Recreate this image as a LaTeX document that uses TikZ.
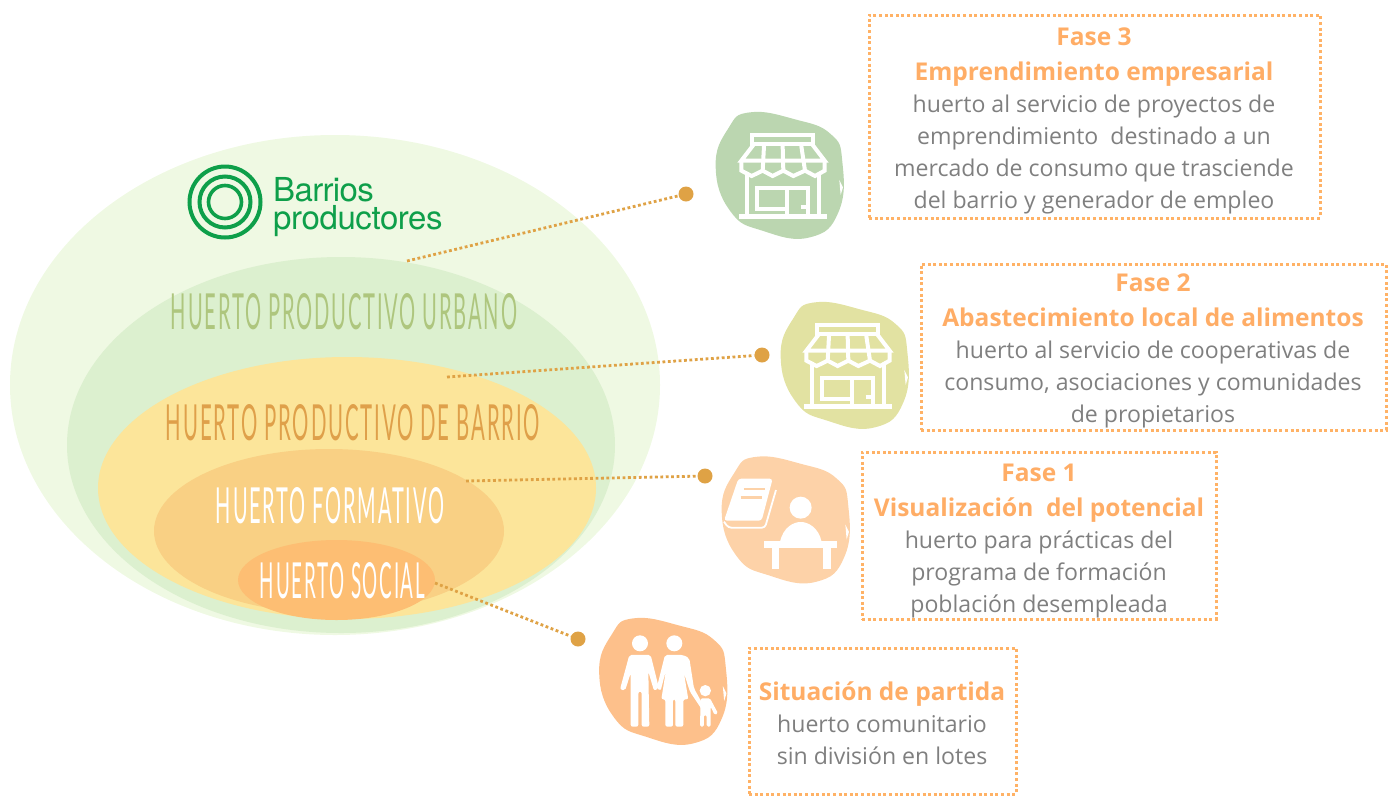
\documentclass[tikz,border=0pt]{standalone}
\usepackage{fontspec}
\setmainfont{Open Sans}
\newfontfamily\hand[LetterSpace=9]{Lato}
\newfontfamily\logofont{TeX Gyre Heros}
\definecolor{ell1}{HTML}{EFF9E3}
\definecolor{ell2}{HTML}{DCF0CF}
\definecolor{ell3}{HTML}{FCE59A}
\definecolor{ell4}{HTML}{F9D084}
\definecolor{ell5}{HTML}{FDBE73}
\definecolor{blobA}{HTML}{BBD6B0}
\definecolor{blobB}{HTML}{E2E2A2}
\definecolor{blobC}{HTML}{FDD2A8}
\definecolor{blobD}{HTML}{FDC08B}
\definecolor{dotc}{HTML}{DFA245}
\definecolor{boxc}{HTML}{FFB266}
\definecolor{titlec}{HTML}{FFAD66}
\definecolor{bodyc}{HTML}{7F7F7F}
\definecolor{logoc}{HTML}{0E9F4A}
\definecolor{hueA}{HTML}{AEC67E}
\definecolor{hueB}{HTML}{DFA04A}
\newcommand{\ttl}[1]{{\fontsize{24.5}{35}\selectfont\bfseries\color{titlec}#1}}
\newcommand{\huerto}[4]{\node[text=#4,inner sep=0pt] (#1) at (#2) {\resizebox{#3}{36pt}{\hand HUERTO #1}};}
\newcommand{\blobshape}[3]{%
  \begin{scope}[shift={(#1,#2)},x=0.3333pt,y=-0.3333pt]
    \fill[#3] plot[smooth cycle,tension=0.8] coordinates {(150,37)(285,58)(392,102)(427,185)(416,335)(330,412)(190,393)(92,335)(47,200)(85,85)};
    \fill[white] (418,240) -- (429,262) -- (422,285) -- cycle;
  \end{scope}}
\newcommand{\storeicon}[2]{%
  \begin{scope}[shift={(#1,#2)},x=0.3333pt,y=-0.3333pt,draw=white,line width=4pt,line join=miter]
    \draw (156,104) rectangle (340,133);
    \draw (160,135) -- (124,182) -- (374,182) -- (338,135);
    \draw (124,182) -- (124,212) -- (155,228) -- (188,212) -- (218,228) -- (250,212) -- (280,228) -- (315,212) -- (345,228) -- (374,212) -- (374,182);
    \draw (192,138) -- (188,212) (248,138) -- (250,212) (304,138) -- (315,212);
    \draw (140,222) -- (140,350) (358,222) -- (358,350);
    \draw[line width=5pt] (118,350) -- (380,350);
    \draw (172,264) rectangle (262,328);
    \draw (262,350) -- (262,264) -- (324,264) -- (324,350);
    \draw (302,322) -- (324,322);
  \end{scope}}
\begin{document}
\begin{tikzpicture}[x=1pt,y=-1pt,
  boxstyle/.style={draw=boxc,line width=3pt,dash pattern=on 3pt off 2.6pt},
  linkstyle/.style={draw=dotc,line width=2.8pt,dash pattern=on 2.8pt off 2.6pt},
  dotstyle/.style={circle,fill=dotc,inner sep=0pt,minimum size=15pt},
  txt/.style={align=center,text=bodyc,inner sep=0pt,anchor=north,font=\fontsize{23.1}{32}\selectfont}]
\path[use as bounding box] (0,0) rectangle (1392,796);
% ellipses
\fill[ell1] (335,385) ellipse [x radius=325,y radius=250];
\fill[ell2] (341,445) ellipse [x radius=274,y radius=188];
\fill[ell3] (347,488) ellipse [x radius=249,y radius=131];
\fill[ell4] (329,531) ellipse [x radius=175,y radius=82];
\fill[ell5] (336.5,580) ellipse [x radius=98.5,y radius=40];
% logo
\draw[logoc,line width=4pt] (225,202) circle (35.5) (225,202) circle (25.5);
\draw[logoc,line width=3.6pt] (225,202) circle (16.5);
\node[inner sep=0pt,anchor=base west,text=logoc] (logoA) at (273,201.7) {\logofont\addfontfeature{LetterSpace=-2}\fontsize{33}{33}\selectfont Barrios};
\node[inner sep=0pt,anchor=base west,text=logoc] (logoB) at (273,229) {\logofont\addfontfeature{LetterSpace=-1.2}\fontsize{33}{33}\selectfont productores};
% titles
\huerto{PRODUCTIVO URBANO}{344,311.5}{346pt}{hueA}
\huerto{PRODUCTIVO DE BARRIO}{353,423}{374pt}{hueB}
\huerto{FORMATIVO}{330,506}{228pt}{white}
\huerto{SOCIAL}{342.5,580.5}{165pt}{white}
% connectors
\coordinate (s1) at (407,261);
\coordinate (s2) at (447,377);
\coordinate (s3) at (466,481);
\coordinate (s4) at (435,583);
\node[dotstyle] (d1) at (686,194) {};
\node[dotstyle] (d2) at (762,355) {};
\node[dotstyle] (d3) at (705,476) {};
\node[dotstyle] (d4) at (578,639) {};
\draw[linkstyle] (s1) -- (d1);
\draw[linkstyle] (s2) -- (d2);
\draw[linkstyle] (s3) -- (d3);
\draw[linkstyle] (s4) -- (d4);
% blobs and icons
\blobshape{700}{100}{blobA}
\storeicon{700}{100}
\blobshape{765}{290}{blobB}
\storeicon{765}{290}
\blobshape{706}{444.5}{blobC}
\begin{scope}[shift={(590,440)},x=0.3333pt,y=-0.3333pt]
  \fill[white] (632,203) circle (33);
  \fill[white] (570,305) .. controls (580,262) and (610,246) .. (632,246) .. controls (655,246) and (685,262) .. (695,305) -- cycle;
  \fill[white] (523,302) rectangle (742,323);
  \fill[white] (545,323) rectangle (568,388);
  \fill[white] (698,323) rectangle (722,388);
  \fill[white,rounded corners=3pt] (445,116) -- (548,116) -- (515,242) -- (402,242) -- cycle;
  \draw[white,line width=1.8pt,rounded corners=3pt] (558,150) -- (525,263) -- (415,263) -- (402,245);
  \draw[blobC,line width=2.6pt] (462,147) -- (525,147) (452,173) -- (516,173);
\end{scope}
\blobshape{583.5}{606}{blobD}
\begin{scope}[shift={(590,440)},x=0.3333pt,y=-0.3333pt]
  \fill[white] (150,610) circle (24);
  \fill[white] (253,610) circle (24);
  \fill[white] (346,752) circle (17);
  \fill[white,rounded corners=2pt] (118,645) -- (182,645) -- (207,745) -- (192,752) -- (175,695) -- (178,860) -- (155,860) -- (155,755) -- (145,755) -- (145,860) -- (122,860) -- (122,700) -- (105,752) -- (90,748) -- cycle;
  \fill[white,rounded corners=2pt] (225,645) -- (280,645) -- (298,655) -- (312,745) -- (345,805) -- (338,812) -- (300,755) -- (282,700) -- (295,778) -- (280,778) -- (280,860) -- (256,860) -- (256,778) -- (249,778) -- (249,860) -- (226,860) -- (226,778) -- (214,778) -- (228,690) -- (212,752) -- (200,745) -- cycle;
  \fill[white,rounded corners=1.5pt] (332,775) -- (360,775) -- (384,820) -- (374,825) -- (362,800) -- (362,860) -- (350,860) -- (350,825) -- (342,825) -- (342,860) -- (330,860) -- cycle;
\end{scope}
% boxes
\node[boxstyle,minimum width=451pt,minimum height=203pt,inner sep=0pt] (b1) at (1094.5,116.5) {};
\node[boxstyle,minimum width=465pt,minimum height=166pt,inner sep=0pt] (b2) at (1153.5,347) {};
\node[boxstyle,minimum width=354pt,minimum height=167pt,inner sep=0pt] (b3) at (1039,535.5) {};
\node[boxstyle,minimum width=267pt,minimum height=146pt,inner sep=0pt] (b4) at (882.5,721) {};
% texts
\node[txt] (t1) at (1094,28) {\ttl{Fase 3}\\[3pt]\ttl{Emprendimiento empresarial}\\huerto al servicio de proyectos de\\emprendimiento\ \ destinado a un\\mercado de consumo que trasciende\\del barrio y generador de empleo};
\node[txt] (t2) at (1153,274) {\ttl{Fase 2}\\[3pt]\ttl{Abastecimiento local de alimentos}\\huerto al servicio de cooperativas de\\consumo, asociaciones y comunidades\\de propietarios};
\node[txt] (t3) at (1039,464) {\ttl{Fase 1}\\[3pt]\ttl{Visualización\ \ del potencial}\\huerto para prácticas del\\programa de formación\\población desempleada};
\node[txt] (t4) at (882,682) {\ttl{Situación de partida}\\huerto comunitario\\sin división en lotes};
\end{tikzpicture}
\end{document}
